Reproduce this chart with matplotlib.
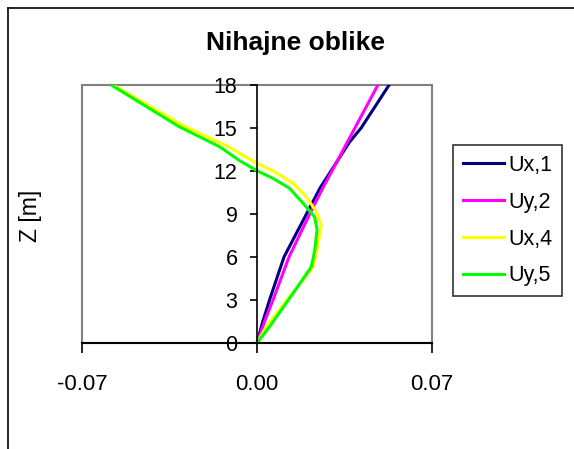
import matplotlib
matplotlib.use("Agg")
import matplotlib.pyplot as plt
from matplotlib.lines import Line2D
from matplotlib.patches import Rectangle

plt.rcParams['font.family'] = ['Liberation Sans', 'DejaVu Sans']

# mode shapes (displacement vs height)
z_ux1 = [0, 1.5, 3, 6, 9, 10.8, 14, 15, 18]
ux1 = [0, 0.0023, 0.0050, 0.0108, 0.0198, 0.0252, 0.0370, 0.0417, 0.0529]

z_uy2 = [0, 1.5, 3, 6, 9, 10.8, 12, 15, 18]
uy2 = [0, 0.0030, 0.0064, 0.0128, 0.0211, 0.0263, 0.0300, 0.0392, 0.0484]

z_ux4 = [0, 1.14, 3.23, 5.3, 6.25, 8.2, 9.15, 10.2, 11.13, 12.0, 12.52, 13.7, 15.1, 18]
ux4 = [0, 0.0037, 0.0130, 0.0224, 0.0237, 0.0257, 0.0237, 0.0197, 0.0144, 0.0063, 0.0,
       -0.0117, -0.0290, -0.0578]

z_uy5 = [0, 1.14, 3.46, 5.3, 6.46, 7.9, 8.8, 9.74, 10.78, 11.48, 12.0, 12.7, 13.68, 15.07, 18]
uy5 = [0, 0.0050, 0.0144, 0.0217, 0.0231, 0.0240, 0.0230, 0.0184, 0.0130, 0.0063, 0.0,
       -0.0069, -0.0150, -0.0311, -0.0585]

labels = ['Ux,1', 'Uy,2', 'Ux,4', 'Uy,5']
colors = ['#000080', '#FF00FF', '#FFFF00', '#00FF00']

x_ticks = [-0.07, 0.0, 0.07]
x_ticklabels = ['-0.07', '0.00', '0.07']
y_ticks = [0, 3, 6, 9, 12, 15, 18]

fig = plt.figure(figsize=(5.74, 4.49), dpi=100)
ax = fig.add_axes([0.1429, 0.2361, 0.6098, 0.5753])

series = [(ux1, z_ux1), (uy2, z_uy2), (ux4, z_ux4), (uy5, z_uy5)]
for (xs, zs), lab, col in zip(series, labels, colors):
    ax.plot(xs, zs, color=col, lw=2.2, label=lab, solid_joinstyle='round')

ax.set_xlim(-0.07, 0.07)
ax.set_ylim(0, 18)

# gray plot-area frame
ax.add_patch(Rectangle((0, 0), 1, 1, transform=ax.transAxes, fill=False,
                       edgecolor='#808080', lw=1.5, zorder=0, clip_on=False))
ax.spines['top'].set_visible(False)
ax.spines['right'].set_visible(False)
ax.spines['left'].set_position(('data', 0))
ax.spines['left'].set_linewidth(1.2)
ax.spines['bottom'].set_linewidth(1.5)
ax.spines['bottom'].set_zorder(5)

ax.set_xticks(x_ticks)
ax.set_xticklabels(x_ticklabels)
ax.set_yticks(y_ticks)
ax.tick_params(axis='x', direction='out', length=7, width=1.2, labelsize=16, pad=15)
ax.tick_params(axis='y', direction='out', length=5, width=1.2, labelsize=15.5, pad=9)

fig.text(0.514, 0.905, 'Nihajne oblike', ha='center', va='center',
         fontsize=19, fontweight='bold')
fig.text(0.054, 0.52, 'Z [m]', ha='center', va='center', rotation=90, fontsize=16.5)

leg = ax.legend(loc='upper left', bbox_to_anchor=(453 / 574, 1 - 145 / 449),
                bbox_transform=fig.transFigure, fontsize=15.5, frameon=True,
                fancybox=False, shadow=False, handlelength=1.9, handletextpad=0.23,
                labelspacing=0.74, borderpad=0.45, borderaxespad=0)
leg.get_frame().set_edgecolor('black')
leg.get_frame().set_linewidth(1.2)

# outer chart frame (only left and top visible in the picture)
fig.add_artist(Line2D([8 / 574, 8 / 574], [0, 1 - 8 / 449], color='black', lw=1.2,
                      transform=fig.transFigure))
fig.add_artist(Line2D([8 / 574, 1], [1 - 8 / 449, 1 - 8 / 449], color='black', lw=1.2,
                      transform=fig.transFigure))

fig.savefig('out.png', dpi=100)
